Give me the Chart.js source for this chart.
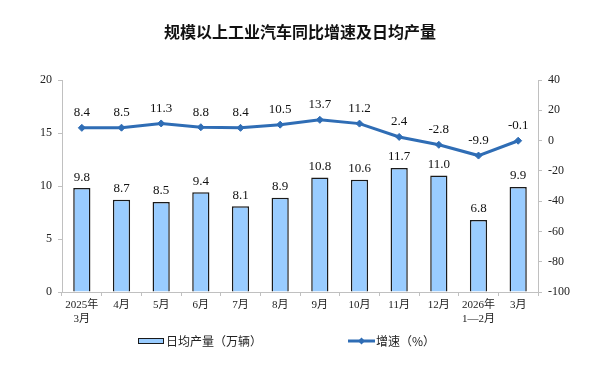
<!DOCTYPE html>
<html><head><meta charset="utf-8">
<script src="https://cdn.jsdelivr.net/npm/chart.js@4/dist/chart.umd.min.js"></script>
<style>html,body{margin:0;padding:0;background:#fff;}#wrap{width:602px;height:379px;}</style>
</head><body><div id="wrap"><canvas id="c" width="602" height="379"></canvas></div>
<script>
const categories = [["2025年","3月"],"4月","5月","6月","7月","8月","9月","10月","11月","12月",["2026年","1—2月"],"3月"];
const dailyOutput = [9.8,8.7,8.5,9.4,8.1,8.9,10.8,10.6,11.7,11.0,6.8,9.9];
const growthRate = [8.4,8.5,11.3,8.8,8.4,10.5,13.7,11.2,2.4,-2.8,-9.9,-0.1];
const leftTicks = [0,5,10,15,20];
const rightTicks = [-100,-80,-60,-40,-20,0,20,40];
const titleText = "规模以上工业汽车同比增速及日均产量";
const legendBar = "日均产量（万辆）";
const legendLine = "增速（%）";

const BAR_FILL = '#99CCFF', BAR_BORDER = '#1a1a1a', LINE_COLOR = '#2F6DB5', AXIS = '#c0c0c0';
const SERIF = '"Liberation Serif","Noto Sans CJK SC",serif';
const CJK = '"Noto Sans CJK SC",sans-serif';

const labelPlugin = {
  id: 'labels',
  afterDatasetsDraw(chart) {
    const ctx = chart.ctx;
    ctx.save();
    ctx.font = '13px ' + SERIF;
    ctx.fillStyle = '#111';
    ctx.textAlign = 'center';
    ctx.textBaseline = 'middle';
    chart.getDatasetMeta(0).data.forEach((el, i) => {
      ctx.fillText(dailyOutput[i].toFixed(1), el.x, el.y - 11);
    });
    chart.getDatasetMeta(1).data.forEach((el, i) => {
      ctx.fillText(growthRate[i].toFixed(1), el.x, el.y - 15);
    });
    ctx.restore();
  },
  afterDraw(chart) {
    const ctx = chart.ctx;
    ctx.save();
    ctx.font = 'bold 16px ' + CJK;
    ctx.fillStyle = '#111';
    ctx.textAlign = 'center';
    ctx.textBaseline = 'middle';
    ctx.fillText(titleText, 300, 32);
    ctx.fillStyle = BAR_FILL;
    ctx.strokeStyle = BAR_BORDER;
    ctx.lineWidth = 1;
    ctx.fillRect(138.5, 338.5, 25, 5);
    ctx.strokeRect(138.5, 338.5, 25, 5);
    ctx.font = '12px ' + CJK;
    ctx.fillStyle = '#222';
    ctx.textAlign = 'left';
    ctx.fillText(legendBar, 166, 341);
    ctx.strokeStyle = LINE_COLOR;
    ctx.lineWidth = 3;
    ctx.beginPath(); ctx.moveTo(348, 341); ctx.lineTo(375, 341); ctx.stroke();
    ctx.fillStyle = LINE_COLOR;
    ctx.beginPath(); ctx.moveTo(361.5, 337.5); ctx.lineTo(365, 341); ctx.lineTo(361.5, 344.5); ctx.lineTo(358, 341); ctx.closePath(); ctx.fill();
    ctx.fillStyle = '#222';
    ctx.fillText(legendLine, 376, 341);
    ctx.restore();
  }
};

new Chart(document.getElementById('c'), {
  data: {
    labels: categories,
    datasets: [
      { type: 'bar', data: dailyOutput, yAxisID: 'y', backgroundColor: BAR_FILL, borderColor: BAR_BORDER, borderWidth: 1.5, borderSkipped: 'bottom', barPercentage: 0.7, categoryPercentage: 0.62, order: 2 },
      { type: 'line', data: growthRate, yAxisID: 'y1', borderColor: LINE_COLOR, backgroundColor: LINE_COLOR, borderWidth: 3, pointStyle: 'rectRot', pointRadius: 3.5, pointBorderWidth: 1, tension: 0, order: 1 }
    ]
  },
  plugins: [labelPlugin],
  options: {
    responsive: false,
    animation: false,
    devicePixelRatio: 1,
    layout: { padding: { top: 80, left: 0, right: 0, bottom: 0 } },
    plugins: { legend: { display: false }, title: { display: false }, tooltip: { enabled: false } },
    scales: {
      x: {
        offset: true,
        afterFit(s) { s.height = 87; },
        border: { color: AXIS, width: 1 },
        grid: { offset: true, drawOnChartArea: false, color: AXIS, tickLength: 4 },
        ticks: { color: '#222', padding: 3, font: { family: SERIF, size: 11 }, maxRotation: 0, autoSkip: false }
      },
      y: {
        position: 'left', min: 0, max: 20,
        afterFit(s) { s.width = 62; },
        afterBuildTicks(s) { s.ticks = leftTicks.map(v => ({ value: v })); },
        border: { color: AXIS, width: 1 },
        grid: { drawOnChartArea: false, color: AXIS, tickLength: 4 },
        ticks: { color: '#222', padding: 6, font: { family: SERIF, size: 12 } }
      },
      y1: {
        position: 'right', min: -100, max: 40,
        afterFit(s) { s.width = 64; },
        afterBuildTicks(s) { s.ticks = rightTicks.map(v => ({ value: v })); },
        border: { color: AXIS, width: 1 },
        grid: { drawOnChartArea: false, color: AXIS, tickLength: 4 },
        ticks: { color: '#222', padding: 6, font: { family: SERIF, size: 12 } }
      }
    }
  }
});
</script></body></html>
